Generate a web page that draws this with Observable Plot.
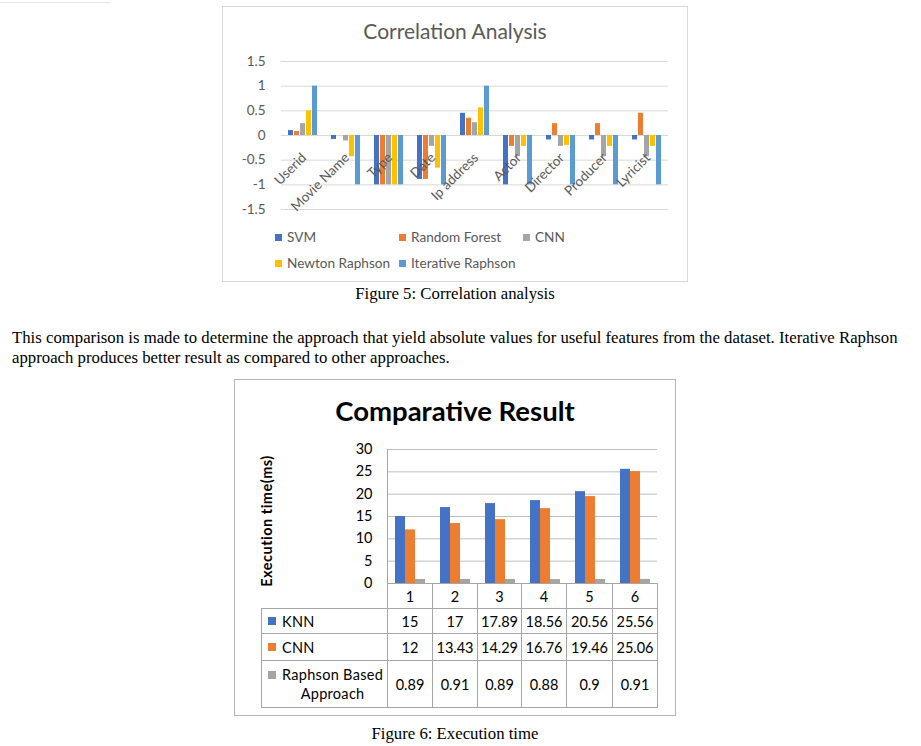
<!DOCTYPE html>
<html><head><meta charset="utf-8">
<script src="https://cdn.jsdelivr.net/npm/d3@7"></script>
<script src="https://cdn.jsdelivr.net/npm/@observablehq/plot@0.6"></script>
<style>
html,body{margin:0;padding:0;background:#fff;}
body{width:921px;height:746px;position:relative;overflow:hidden;}
.abs{position:absolute;}
.serif{font-family:"Liberation Serif","Times New Roman",serif;color:#000;white-space:nowrap;}
.box{position:absolute;box-sizing:border-box;}
#legend1{position:absolute;left:275px;top:228px;display:grid;grid-template-columns:124px 124px 124px;row-gap:8px;font-family:Lato,sans-serif;font-size:13.6px;color:#595959;}
#legend1 .it{display:flex;align-items:center;height:18px;white-space:nowrap;}
#legend1 .sw{width:7px;height:7px;margin-right:5px;flex:none;}
#tbl{position:absolute;left:261px;top:583px;border-collapse:collapse;table-layout:fixed;font-family:Lato,sans-serif;font-size:14.5px;color:#000;}
#tbl td{border:1px solid #a6a6a6;padding:0;text-align:center;white-space:nowrap;}
#tbl td.blank{border-top:none;border-left:none;}
#tbl .lab{display:flex;align-items:center;padding-left:6px;text-align:left;}
#tbl .lab.top{align-items:flex-start;}
#tbl .sw{display:inline-block;width:8px;height:8px;margin-right:6px;flex:none;}
#tbl .lab.top .sw{margin-top:6px;}
#tbl .lt{text-align:center;line-height:19px;letter-spacing:0.3px;}
</style></head><body>
<script>
// ---------- Figure 5 data ----------
const categories = ["Userid","Movie Name","Type","Date","Ip address","Actor","Director","Producer","Lyricist"];
const corrSeries = ["SVM","Random Forest","CNN","Newton Raphson","Iterative Raphson"];
const svm              = [0.10,-0.08,-1,-0.89,0.45,-1,   -0.09,-0.09,-0.09];
const randomForest     = [0.08, 0,   -1,-0.89,0.35,-0.22, 0.24, 0.24, 0.45];
const cnn              = [0.24,-0.11,-1,-0.22,0.26,-0.43,-0.22,-0.43,-0.43];
const newtonRaphson    = [0.50,-0.43,-1,-0.66,0.56,-0.22,-0.20,-0.22,-0.22];
const iterativeRaphson = [1,   -1,   -1,-1,   1,   -1,   -1,   -1,   -1];
const corrColors = ["#4472C4","#ED7D31","#A5A5A5","#FFC000","#5B9BD5"];
const corrTicks = [-1.5,-1,-0.5,0,0.5,1,1.5];

// ---------- Figure 6 data ----------
const runs = ["1","2","3","4","5","6"];
const execSeries = ["KNN","CNN","Raphson Based Approach"];
const execLabels = ["KNN","CNN","Raphson Based<br>Approach"];
const knn     = [15,17,17.89,18.56,20.56,25.56];
const cnnExec = [12,13.43,14.29,16.76,19.46,25.06];
const raphson = [0.89,0.91,0.89,0.88,0.9,0.91];
const execColors = ["#4472C4","#ED7D31","#A5A5A5"];
const execTicks = [0,5,10,15,20,25,30];

const body = document.body;
function add(html){ body.insertAdjacentHTML("beforeend", html); }

// top-left stray rule from page
add('<div class="box" style="left:0;top:2px;width:110px;height:1px;background:#e6e6e6"></div>');

// ---------- Figure 5 ----------
add('<div class="box" style="left:222px;top:6px;width:466px;height:276px;border:1px solid #d9d9d9"></div>');
add('<div class="abs" style="left:222px;width:466px;top:18px;line-height:26px;text-align:center;font-family:Lato,sans-serif;font-size:21px;color:#595959">Correlation Analysis</div>');

const corrValues = [svm, randomForest, cnn, newtonRaphson, iterativeRaphson];
const corrData = categories.flatMap((c,i)=>corrSeries.map((s,j)=>({cat:c, series:s, value:corrValues[j][i]})));

const chart1 = Plot.plot({
  width:466, height:220, marginLeft:58, marginRight:20, marginTop:61, marginBottom:11,
  style:{fontFamily:"Lato, sans-serif", fontSize:"13.5px", color:"#595959", background:"transparent", overflow:"visible"},
  fx:{domain:categories, padding:0, axis:null, label:null},
  x:{domain:corrSeries, paddingInner:0.22, paddingOuter:0.78, axis:null},
  y:{domain:[-1.5,1.5], ticks:corrTicks, tickSize:0, tickPadding:16, tickFormat:d=>String(d), label:null},
  color:{domain:corrSeries, range:corrColors},
  marks:[
    Plot.ruleY(corrTicks, {stroke:"#d9d9d9", strokeWidth:1}),
    Plot.barY(corrData, {fx:"cat", x:"series", y:"value", fill:"series"}),
    Plot.text(categories, {fx:d=>d, y:()=>0, text:d=>d, rotate:-45, textAnchor:"end", dx:1, dy:20, fill:"#595959", fontSize:13.5})
  ]
});
chart1.style.position="absolute"; chart1.style.left="222px"; chart1.style.top="0px";
body.appendChild(chart1);

let lg = '<div id="legend1">';
corrSeries.forEach((s,i)=>{ lg += `<div class="it"><span class="sw" style="background:${corrColors[i]}"></span>${s}</div>`; });
lg += '</div>';
add(lg);

add('<div class="abs serif" style="left:222px;width:466px;top:284px;line-height:20px;text-align:center;font-size:16.75px">Figure 5: Correlation analysis</div>');

add('<div class="abs serif" style="left:12px;top:328px;line-height:20px;font-size:16.75px">This comparison is made to determine the approach that yield absolute values for useful features from the dataset. Iterative Raphson</div>');
add('<div class="abs serif" style="left:12px;top:348px;line-height:20px;font-size:16.75px">approach produces better result as compared to other approaches.</div>');

// ---------- Figure 6 ----------
add('<div class="box" style="left:234px;top:379px;width:442px;height:337px;border:1px solid #b4b4b4"></div>');
add('<div class="abs" style="left:234px;width:442px;top:393px;line-height:36px;text-align:center;font-family:Lato,sans-serif;font-weight:bold;font-size:27.5px;color:#000">Comparative Result</div>');
add('<div class="abs" style="left:266px;top:521px;width:0;height:0"><div style="position:absolute;transform:translate(-50%,-50%) rotate(-90deg);white-space:nowrap;font-family:Lato,sans-serif;font-weight:bold;font-size:14.5px;letter-spacing:0.5px;color:#000">Execution time(ms)</div></div>');

const execValues = [knn, cnnExec, raphson];
const execData = runs.flatMap((r,i)=>execSeries.map((s,j)=>({run:r, series:s, value:execValues[j][i]})));

const chart2 = Plot.plot({
  width:441, height:150, marginLeft:153, marginRight:18, marginTop:9, marginBottom:7,
  style:{fontFamily:"Lato, sans-serif", fontSize:"14.5px", color:"#000", background:"transparent", overflow:"visible"},
  fx:{domain:runs, padding:0, axis:null, label:null},
  x:{domain:execSeries, paddingInner:0, paddingOuter:0.75, axis:null},
  y:{domain:[0,30], ticks:execTicks, tickSize:0, tickPadding:15, label:null},
  color:{domain:execSeries, range:execColors},
  marks:[
    Plot.ruleY(execTicks, {stroke:"#bfbfbf", strokeWidth:1}),
    Plot.barY(execData, {fx:"run", x:"series", y:"value", fill:"series"})
  ]
});
chart2.style.position="absolute"; chart2.style.left="234px"; chart2.style.top="440px";
body.appendChild(chart2);
// left axis line of plot area
add('<div class="box" style="left:387px;top:449px;width:1px;height:134px;background:#a6a6a6"></div>');

// data table
const colW = [126,45,45,44,45,46,45];
const rowH = [25,25,27,47];
let t = '<table id="tbl"><colgroup>' + colW.map(w=>`<col style="width:${w}px">`).join('') + '</colgroup>';
t += `<tr style="height:${rowH[0]}px"><td class="blank"></td>` + runs.map(r=>`<td>${r}</td>`).join('') + '</tr>';
execSeries.forEach((s,j)=>{
  const top = j===2 ? ' top' : '';
  t += `<tr style="height:${rowH[j+1]}px"><td><div class="lab${top}"><span class="sw" style="background:${execColors[j]}"></span><span class="lt">${execLabels[j]}</span></div></td>` +
       execValues[j].map(v=>`<td>${v}</td>`).join('') + '</tr>';
});
t += '</table>';
add(t);

add('<div class="abs serif" style="left:234px;width:442px;top:724px;line-height:20px;text-align:center;font-size:16.75px">Figure 6: Execution time</div>');
</script>
</body></html>
